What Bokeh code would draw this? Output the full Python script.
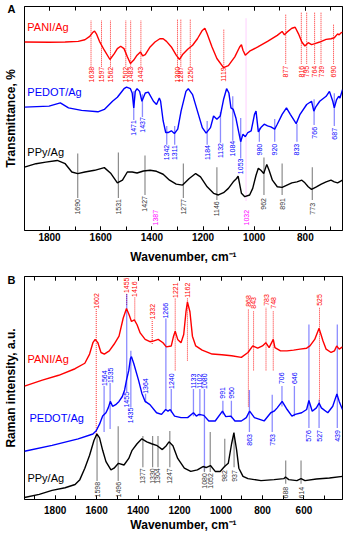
import numpy as np
from bokeh.plotting import figure
from bokeh.models import (ColumnDataSource, LabelSet, Label, Range1d, LinearAxis,
                          SingleIntervalTicker, FixedTicker)
from bokeh.layouts import column
from bokeh.core.properties import value
from bokeh.embed import file_html
from bokeh.resources import INLINE

FONT = "Liberation Sans"
RED = "#ff0000"
BLUE = "#0000ff"
BLACK = "#000000"
GRAY = "#808080"
DARK = "#333333"
MAGENTA = "#ff00ff"

# ---------------- Panel A : FTIR (transmittance, arbitrary offset units) ----------------
ftir_pani_wn = [1898, 1802, 1739, 1688, 1662, 1643, 1630, 1624, 1617, 1605, 1586, 1564, 1547, 1535,
                1522, 1509, 1496, 1484, 1471, 1458, 1445, 1436, 1426, 1407, 1388, 1369, 1356, 1343,
                1324, 1305, 1292, 1280, 1260, 1241, 1222, 1203, 1193, 1184, 1165, 1146, 1120, 1101,
                1076, 1057, 1050, 1044, 1035, 1018, 986, 948, 910, 891, 882, 872, 853, 840, 827,
                814, 802, 789, 776, 763, 744, 719, 700, 687, 674, 668, 661, 655]
ftir_pani_t = [191, 190.7, 191, 191.7, 193.3, 196.7, 201, 202, 199.3, 191.7, 182.7, 173.3, 179.3, 184.3,
               186.7, 184.3, 176, 169.3, 172.7, 177.7, 181, 177, 178.3, 186, 191, 194.3, 194.3, 191.7,
               186, 177.7, 173.3, 178.3, 183.7, 187.7, 194.3, 202.7, 205, 199.3, 186, 174.3, 165, 167,
               176, 186, 188.3, 182.7, 177.7, 181.7, 186, 191.7, 197.7, 201.7, 198.3, 201, 205, 206, 199.3,
               191, 187, 190.3, 188.3, 189.3, 191, 193.7, 194.3, 195.3, 199.3, 198.3, 200.3, 201]

ftir_pedot_wn = [1898, 1802, 1758, 1726, 1675, 1611, 1586, 1554, 1535, 1509, 1499, 1484, 1477, 1471,
                 1465, 1458, 1448, 1439, 1426, 1414, 1394, 1382, 1371, 1366, 1356, 1346, 1337, 1324,
                 1312, 1299, 1286, 1267, 1258, 1241, 1222, 1203, 1188, 1171, 1159, 1146, 1133, 1120,
                 1108, 1099, 1091, 1082, 1072, 1063, 1053, 1044, 1035, 1025, 1012, 999, 993, 984, 974,
                 961, 948, 935, 920, 910, 891, 874, 859, 836, 821, 795, 776, 767, 760, 744, 719, 706,
                 693, 687, 678, 670, 665, 655]
ftir_pedot_t = [125, 126, 129.3, 124.3, 121.7, 120.3, 122.7, 131, 135, 143.7, 145.3, 143.7, 139.3, 124.3,
                141, 143.7, 141, 131, 139.3, 140.3, 131, 127.7, 134.3, 131, 111, 99.3, 99.3, 101,
                98.3, 102.7, 121, 141, 143.7, 137.7, 121, 104.3, 98.7, 104.3, 116, 112.7, 116, 132.7,
                143.7, 139.3, 124.3, 122.7, 114.3, 102.7, 90, 97.7, 95, 99.3, 101, 117.7, 121, 100, 104.3,
                107.7, 106, 105, 102.7, 107.7, 117.7, 124.3, 117.7, 108.3, 117.7, 127.7, 131, 121, 125, 131,
                136, 141, 131, 124.3, 132.7, 136, 134.3, 142.7]

ftir_ppy_wn = [1898, 1853, 1815, 1770, 1739, 1713, 1690, 1662, 1624, 1586, 1560, 1535, 1515, 1496,
               1477, 1458, 1433, 1407, 1382, 1356, 1331, 1305, 1280, 1254, 1229, 1210, 1184, 1159,
               1140, 1120, 1101, 1082, 1069, 1063, 1050, 1037, 1018, 1006, 993, 984, 974, 963, 951,
               942, 929, 910, 891, 872, 853, 833, 814, 802, 789, 776, 757, 738, 719, 700, 687, 674, 655]
ftir_ppy_t = [64.3, 67.7, 69.3, 71, 67.7, 59.3, 57.7, 59.3, 61, 63.7, 57.7, 48.3, 51, 59.3,
              59.3, 58.3, 60.3, 61, 60, 57, 51, 47, 46, 52.7, 57.7, 54.3, 44.3, 37.7,
              36, 38.3, 42.7, 49.3, 52.7, 55, 37.7, 34.3, 36, 42.7, 56, 63, 61, 57.7, 67,
              61, 51, 44.3, 43.7, 46, 48.3, 49.3, 51, 48.3, 44.3, 41.7, 44.3, 47, 49.3, 51, 49.3, 48.3, 51]

ftir_pani_peaks = [1638, 1597, 1562, 1502, 1483, 1443, 1300, 1287, 1250, 1119, 877, 816, 795, 764, 739, 690]
ftir_pani_lab_y = [158, 158, 158, 158, 158, 158, 158, 158, 158, 158, 161, 161, 161, 161, 161, 161]
ftir_pani_line_top = [213, 213, 213, 213, 213, 213, 214, 214, 214, 204, 219, 221, 221, 221, 221, 209]

ftir_pedot_peaks = [1471, 1437, 1342, 1311, 1184, 1132, 1084, 1053, 980, 920, 833, 766, 687]
ftir_pedot_lab_y = [104, 107, 79, 79, 79, 81, 83, 65, 82, 82, 82, 99, 98]
ftir_pedot_line_top = [141, 138, 106, 106, 111, 120, 136, 114, 104, 113, 108, 133, 139]

ftir_ppy_peaks = [1690, 1531, 1427, 1277, 1146, 962, 891, 773]
ftir_ppy_lab_y = [24, 24, 27, 24, 22, 27, 27, 22]
ftir_ppy_line_top = [78, 79, 76, 68, 64, 74, 68, 64]

ftir_extra_peaks = [1387, 1032]
ftir_extra_lab_y = [13, 13]

# ---------------- Panel B : Raman (intensity, arbitrary offset units) ----------------
raman_pani_wn = [1948, 1862, 1783, 1704, 1657, 1634, 1618, 1607, 1594, 1579, 1563, 1539, 1516, 1492,
                 1472, 1456, 1443, 1432, 1418, 1405, 1390, 1366, 1343, 1327, 1303, 1280, 1264, 1240,
                 1229, 1221, 1209, 1193, 1180, 1169, 1162, 1150, 1138, 1122, 1091, 1043, 996, 949, 902,
                 870, 847, 823, 800, 784, 768, 748, 740, 713, 682, 650, 619, 587, 571, 548, 527, 508,
                 493, 469, 453, 442, 430, 414]
raman_pani_i = [117, 123, 128, 134.7, 140.3, 149.7, 161.3, 164.7, 161.3, 151.3, 149.7, 153, 159.7, 168,
                186.3, 196.3, 189.7, 183, 184.7, 179.7, 171.3, 164.7, 162.3, 163, 164.7, 161.3, 157, 158,
                168, 173, 164.7, 161.3, 169.7, 193, 203, 193, 168, 158, 153.7, 149.7, 149, 148, 146.3,
                151.3, 158, 155.7, 158, 161.3, 156.3, 164.7, 156.3, 153, 153, 153.7, 154.7, 155.7, 158,
                164.7, 176, 163, 154.7, 151.3, 153, 158, 154.7, 157]

raman_pedot_wn = [1948, 1815, 1689, 1618, 1602, 1586, 1571, 1555, 1544, 1534, 1523, 1508, 1492, 1476,
                  1465, 1456, 1445, 1437, 1432, 1421, 1398, 1382, 1366, 1343, 1311, 1287, 1267, 1256,
                  1245, 1224, 1193, 1161, 1133, 1119, 1106, 1083, 1059, 1028, 993, 977, 952, 933, 902,
                  878, 862, 839, 792, 760, 744, 729, 705, 681, 658, 642, 611, 587, 576, 560, 540, 527,
                  516, 485, 461, 441, 430, 414]
raman_pedot_i = [50.3, 56.3, 63, 68, 71.3, 78, 86.3, 89.7, 94.7, 101.3, 96.3, 98, 101.3, 106.3,
                 113, 123, 133, 145, 147, 140, 123, 109.7, 101.3, 98, 89.7, 88, 93, 91.3,
                 93, 86.3, 84.7, 84.7, 89.7, 86.3, 88, 87, 81.3, 81.3, 91.3, 85.7, 86.3, 81.3, 81.3,
                 84.7, 91.3, 84.7, 81.3, 89.7, 91.3, 94.7, 101.3, 93, 86.3, 88, 89.7, 93, 102.3, 91.3, 94.7, 99.7,
                 94.7, 89.7, 96.3, 109, 101.3, 93]

raman_ppy_wn = [1948, 1877, 1815, 1752, 1704, 1681, 1657, 1634, 1613, 1599, 1586, 1571, 1555, 1531,
                1516, 1495, 1468, 1445, 1429, 1405, 1382, 1358, 1335, 1308, 1283, 1264, 1251, 1232,
                1209, 1177, 1146, 1114, 1087, 1072, 1051, 1028, 1004, 983, 965, 949, 938, 925, 914,
                894, 870, 807, 744, 697, 689, 673, 634, 614, 595, 540, 477, 414]
raman_ppy_i = [3, 6.3, 10.3, 13, 16.3, 21.3, 33, 46.3, 61.3, 68, 64, 51.3, 39.7, 31.3,
               33, 38, 36.3, 43, 51.3, 58, 63, 60, 58, 56, 52, 56, 60, 56,
               43, 33, 29.7, 31.3, 34.7, 33.7, 35.7, 29.7, 29.7, 34.7, 38, 58, 69, 52, 33,
               24.7, 22.3, 20.3, 21.3, 22.3, 24, 21.3, 20.3, 22.3, 20.3, 22, 23, 24.7]

raman_pani_peaks = [1602, 1455, 1416, 1332, 1221, 1162, 868, 843, 783, 748, 525]
raman_pani_lab_y = [204, 220, 216, 193, 215, 215, 204, 202, 205, 202, 205]
raman_pani_line_bot = [66, 200, 185, 160, 133, 143, 96, 133, 133, 133, 100]

raman_pedot_peaks = [1564, 1535, 1455, 1435, 1364, 1266, 1240, 1133, 1102, 1080, 991, 950,
                     863, 753, 706, 646, 576, 527, 439]
raman_pedot_lab_y = [125, 128, 103, 87, 117, 194, 122, 122, 122, 122, 110, 110,
                     62, 62, 125, 125, 66, 66, 66]
raman_pedot_line_top = [117, 120, 211, 153, 109, 186, 114, 114, 114, 114, 102, 102,
                        113, 108, 117, 117, 180, 103, 180]
raman_pedot_line_bot = [70, 73, 111, 95, 100, 93, 90, 86, 86, 30, 88, 84,
                        70, 70, 96, 86, 74, 74, 74]

raman_ppy_peaks = [1598, 1496, 1377, 1330, 1304, 1247, 1080, 1052, 982, 937, 688, 614]
raman_ppy_lab_y = [11, 11, 25, 25, 25, 25, 20, 20, 25, 25, 8, 8]
raman_ppy_line_top = [66, 76, 66, 66, 66, 71, 33, 70, 63, 70, 41, 41]

X_TICKS = list(range(400, 2001, 200))


def make_panel(height, xr, yr, top, bottom, label_standoff, title_standoff,
               letter, letter_y, ytitle):
    p = figure(width=345, height=height, x_range=Range1d(*xr), y_range=Range1d(*yr),
               output_backend="svg", toolbar_location=None,
               x_axis_location=None, y_axis_location=None,
               min_border_left=17, min_border_right=3,
               min_border_top=top, min_border_bottom=bottom)
    for g in p.grid:
        g.visible = False
    p.outline_line_color = BLACK
    p.outline_line_width = 1
    p.outline_line_alpha = 1
    p.background_fill_color = "white"
    p.border_fill_color = "white"

    xa = LinearAxis(ticker=SingleIntervalTicker(interval=200, num_minor_ticks=2),
                    axis_label="Wavenumber, cm\u207b\u00b9")
    xa.major_tick_in = 4
    xa.major_tick_out = 0
    xa.minor_tick_in = 4
    xa.minor_tick_out = 0
    xa.major_label_standoff = label_standoff
    xa.axis_label_standoff = title_standoff
    xa.major_label_text_font = FONT
    xa.major_label_text_font_style = "bold"
    xa.major_label_text_font_size = "10px"
    xa.major_label_text_color = BLACK
    xa.axis_label_text_font = FONT
    xa.axis_label_text_font_style = "bold"
    xa.axis_label_text_font_size = "12px"
    xa.axis_label_text_color = BLACK
    p.add_layout(xa, "below")

    xt = LinearAxis(ticker=SingleIntervalTicker(interval=200, num_minor_ticks=2))
    xt.major_tick_in = 4
    xt.major_tick_out = 0
    xt.minor_tick_in = 4
    xt.minor_tick_out = 0
    xt.major_label_standoff = 0
    xt.major_label_overrides = {t: "" for t in X_TICKS}
    xt.major_label_text_font_size = "10px"
    p.add_layout(xt, "above")

    # left axis: panel letter as its only tick label, y title as its axis label
    ya = LinearAxis(ticker=FixedTicker(ticks=[letter_y]), axis_label=ytitle)
    ya.major_label_overrides = {letter_y: letter}
    ya.major_tick_in = 0
    ya.major_tick_out = 0
    ya.minor_tick_in = 0
    ya.minor_tick_out = 0
    ya.axis_line_color = None
    ya.major_label_standoff = 9
    ya.major_label_text_font = FONT
    ya.major_label_text_font_style = "bold"
    ya.major_label_text_font_size = "11px"
    ya.major_label_text_color = BLACK
    ya.axis_label_standoff = -13
    ya.axis_label_text_font = FONT
    ya.axis_label_text_font_style = "bold"
    ya.axis_label_text_font_size = "12px"
    ya.axis_label_text_color = BLACK
    p.add_layout(ya, "left")
    return p


def vlines(p, xs, y0s, y1s, color, alpha=1.0, width=1.0, dash="solid"):
    src = ColumnDataSource(dict(x=list(xs), y0=list(y0s), y1=list(y1s)))
    p.segment(x0="x", y0="y0", x1="x", y1="y1", source=src, line_color=color,
              line_alpha=alpha, line_width=width, line_dash=dash)


def peak_labels(p, xs, ys, color):
    src = ColumnDataSource(dict(x=list(xs), y=list(ys), t=[str(v) for v in xs]))
    p.add_layout(LabelSet(x="x", y="y", text="t", source=src, angle=np.pi / 2,
                          text_align="center", text_baseline="middle",
                          text_font=value(FONT), text_font_size=value("7px"),
                          text_color=color))


def text(p, x, y, s, color, size="11px"):
    p.add_layout(Label(x=x, y=y, text=s, text_color=color, text_font=FONT,
                       text_font_size=size, text_align="left", text_baseline="middle"))


# ---------------- Panel A ----------------
pA = make_panel(266, (1898, 655), (0, 227), 6, 33, 2, 6, "A", 224, "Transmittance, %")

vlines(pA, ftir_pani_peaks, [y + 8 for y in ftir_pani_lab_y], ftir_pani_line_top,
       RED, alpha=0.85, width=1, dash="1 1")
vlines(pA, ftir_pedot_peaks, [y + 8 for y in ftir_pedot_lab_y], ftir_pedot_line_top,
       BLUE, alpha=0.45, width=1.3)
vlines(pA, ftir_ppy_peaks, [y + 9 for y in ftir_ppy_lab_y], ftir_ppy_line_top,
       GRAY, alpha=0.9, width=1.2)
vlines(pA, [1032], [30], [215], MAGENTA, alpha=0.15, width=1.3)

pA.line(ftir_pani_wn, ftir_pani_t, line_color=RED, line_width=1.4)
pA.line(ftir_pedot_wn, ftir_pedot_t, line_color=BLUE, line_width=1.4)
pA.line(ftir_ppy_wn, ftir_ppy_t, line_color=BLACK, line_width=1.4)

peak_labels(pA, ftir_pani_peaks, ftir_pani_lab_y, RED)
peak_labels(pA, ftir_pedot_peaks, ftir_pedot_lab_y, BLUE)
peak_labels(pA, ftir_ppy_peaks, ftir_ppy_lab_y, DARK)
peak_labels(pA, ftir_extra_peaks, ftir_extra_lab_y, MAGENTA)

text(pA, 1887, 206, "PANI/Ag", RED)
text(pA, 1887, 140, "PEDOT/Ag", BLUE)
text(pA, 1887, 80, "PPy/Ag", BLACK)

# ---------------- Panel B ----------------
pB = make_panel(268, (1948, 414), (1, 229), 10, 31, 6, 1, "B", 225, "Raman intensity, a.u.")

vlines(pB, raman_pani_peaks, raman_pani_line_bot, [y - 8 for y in raman_pani_lab_y],
       RED, alpha=0.85, width=1, dash="1 1")
vlines(pB, raman_pedot_peaks, raman_pedot_line_bot, raman_pedot_line_top,
       BLUE, alpha=0.45, width=1.3)
vlines(pB, raman_ppy_peaks, [y + 9 for y in raman_ppy_lab_y], raman_ppy_line_top,
       GRAY, alpha=0.9, width=1.2)

pB.line(raman_pani_wn, raman_pani_i, line_color=RED, line_width=1.4)
pB.line(raman_pedot_wn, raman_pedot_i, line_color=BLUE, line_width=1.4)
pB.line(raman_ppy_wn, raman_ppy_i, line_color=BLACK, line_width=1.4)

peak_labels(pB, raman_pani_peaks, raman_pani_lab_y, RED)
peak_labels(pB, raman_pedot_peaks, raman_pedot_lab_y, BLUE)
peak_labels(pB, raman_ppy_peaks, raman_ppy_lab_y, DARK)

text(pB, 1934, 145, "PANI/Ag", RED)
text(pB, 1924, 84, "PEDOT/Ag", BLUE)
text(pB, 1934, 23, "PPy/Ag", BLACK)

layout = column(pA, pB)
open("out.html", "w").write(file_html(layout, INLINE))
